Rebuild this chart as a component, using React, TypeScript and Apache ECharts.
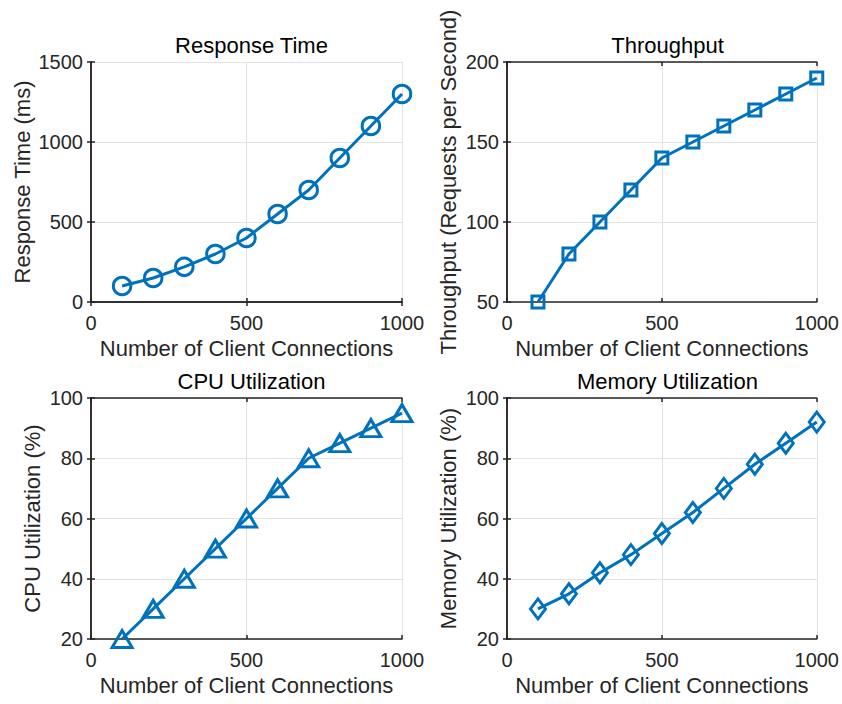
import React, { useEffect, useRef } from "react";
import * as echarts from "echarts";

const connections = [100, 200, 300, 400, 500, 600, 700, 800, 900, 1000];
const responseTime = [100, 150, 220, 300, 400, 550, 700, 900, 1100, 1300];
const throughput = [50, 80, 100, 120, 140, 150, 160, 170, 180, 190];
const cpuUtil = [20, 30, 40, 50, 60, 70, 80, 85, 90, 95];
const memUtil = [30, 35, 42, 48, 55, 62, 70, 78, 85, 92];

const titles = ["Response Time", "Throughput", "CPU Utilization", "Memory Utilization"];
const yNames = [
  "Response Time (ms)",
  "Throughput (Requests per Second)",
  "CPU Utilization (%)",
  "Memory Utilization (%)",
];
const xName = "Number of Client Connections";
const yRanges = [
  [0, 1500, 500],
  [50, 200, 50],
  [20, 100, 20],
  [20, 100, 20],
];
const xRange = [0, 1000, 500];

const COLOR = "#0072BD";
const TXT = "#262626";
const FONT = "'Liberation Sans', Arial, Helvetica, sans-serif";

const grids = [
  { left: 91, top: 62, width: 311, height: 240 },
  { left: 507, top: 62, width: 311, height: 240 },
  { left: 91, top: 398, width: 311, height: 241 },
  { left: 507, top: 398, width: 311, height: 241 },
];
const yNameGaps = [58, 48, 48, 48];

const symbols: any[] = [
  { symbol: "circle", size: 17.5 },
  { symbol: "rect", size: 12 },
  { symbol: "triangle", size: [20, 17] },
  { symbol: "diamond", size: [15, 20] },
];

export default function App() {
  const ref = useRef<HTMLDivElement>(null);
  useEffect(() => {
    if (!ref.current) return;
    const chart = echarts.init(ref.current, undefined, { renderer: "svg" });
    const seriesData = [responseTime, throughput, cpuUtil, memUtil];
    const xAxis: any[] = [];
    const yAxis: any[] = [];
    const series: any[] = [];
    const title: any[] = [];
    const fmt = (v: number) => String(v);
    grids.forEach((g, i) => {
      title.push({
        text: titles[i],
        left: g.left + g.width / 2,
        top: g.top - 33,
        textAlign: "center",
        textStyle: { fontFamily: FONT, fontSize: 22, fontWeight: "normal", color: "#000" },
      });
      const common = {
        gridIndex: i,
        type: "value",
        axisLine: { show: true, lineStyle: { color: TXT, width: 1.5 } },
        axisTick: { show: true, inside: true, length: 4, lineStyle: { color: TXT, width: 1.5 } },
      };
      xAxis.push({
        ...common,
        position: "bottom",
        min: xRange[0],
        max: xRange[1],
        interval: xRange[2],
        name: xName,
        nameLocation: "middle",
        nameGap: 35,
        nameTextStyle: { fontFamily: FONT, fontSize: 22, color: TXT },
        axisLabel: { fontFamily: FONT, fontSize: 20, color: TXT, margin: 11, formatter: fmt },
        splitLine: { show: true, lineStyle: { color: "#e3e3e3", width: 1 } },
      });
      xAxis.push({
        ...common,
        position: "top",
        min: xRange[0],
        max: xRange[1],
        interval: xRange[2],
        axisLabel: { show: false },
        splitLine: { show: false },
      });
      const [ymin, ymax, yint] = yRanges[i];
      yAxis.push({
        ...common,
        position: "left",
        min: ymin,
        max: ymax,
        interval: yint,
        name: yNames[i],
        nameLocation: "middle",
        nameGap: yNameGaps[i],
        nameTextStyle: { fontFamily: FONT, fontSize: 22, color: TXT },
        axisLabel: { fontFamily: FONT, fontSize: 20, color: TXT, margin: 8, formatter: fmt },
        splitLine: { show: true, lineStyle: { color: "#e3e3e3", width: 1 } },
      });
      yAxis.push({
        ...common,
        position: "right",
        min: ymin,
        max: ymax,
        interval: yint,
        axisLabel: { show: false },
        splitLine: { show: false },
      });
      series.push({
        type: "line",
        xAxisIndex: i * 2,
        yAxisIndex: i * 2,
        data: connections.map((c, k) => [c, seriesData[i][k]]),
        symbol: symbols[i].symbol,
        symbolSize: symbols[i].size,
        showAllSymbol: true,
        clip: false,
        lineStyle: { color: COLOR, width: 3 },
        itemStyle: { color: "transparent", borderColor: COLOR, borderWidth: 3 },
        emphasis: { disabled: true },
      });
    });
    chart.setOption({
      animation: false,
      backgroundColor: "#fff",
      title,
      grid: grids.map((g) => ({ ...g, containLabel: false })),
      xAxis,
      yAxis,
      series,
    });
    return () => chart.dispose();
  }, []);
  return (
    <div
      ref={ref}
      style={{ position: "fixed", left: 0, top: 0, width: 842, height: 704 }}
    />
  );
}
